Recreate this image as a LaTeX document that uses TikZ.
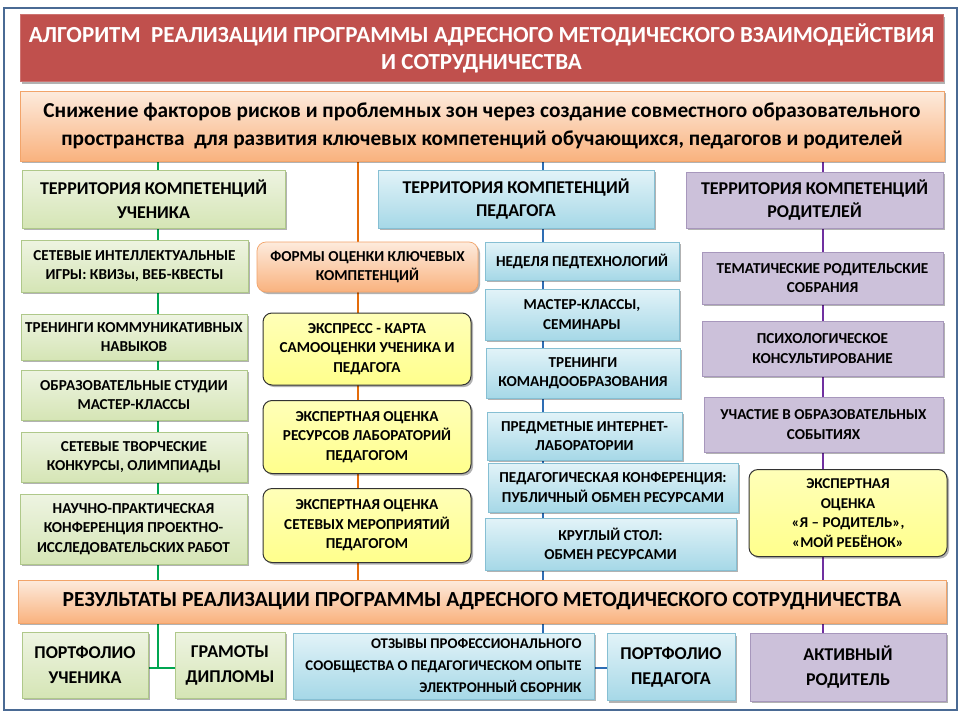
\documentclass[tikz,border=0pt]{standalone}
\usepackage{fontspec}
\setmainfont{Carlito}
\usetikzlibrary{shadows}
\definecolor{framec}{HTML}{4A6A94}
\definecolor{redt}{HTML}{C0504D}
\definecolor{otop}{HTML}{FDEBDD}
\definecolor{obot}{HTML}{F9B27E}
\definecolor{oborder}{HTML}{F2A46A}
\definecolor{gtop}{HTML}{EEF4E2}
\definecolor{gbot}{HTML}{D5E5B5}
\definecolor{gborder}{HTML}{AFC88A}
\definecolor{btop}{HTML}{E2F3F8}
\definecolor{bbot}{HTML}{A6D8E7}
\definecolor{bborder}{HTML}{86BFD3}
\definecolor{pfill}{HTML}{CCC1DA}
\definecolor{pborder}{HTML}{A797BC}
\definecolor{ytop}{HTML}{FFFFB8}
\definecolor{ybot}{HTML}{FFFF8C}
\definecolor{lgreen}{HTML}{00A651}
\definecolor{lorange}{HTML}{E46C0A}
\definecolor{lblue}{HTML}{2E6DB4}
\definecolor{lpurple}{HTML}{7030A0}
\pgfdeclarelayer{back}
\pgfdeclarelayer{lines}
\pgfsetlayers{back,lines,main}
\tikzset{
  shad/.style={drop shadow={shadow xshift=2pt, shadow yshift=-2pt, opacity=0.3, fill=black}},
  base/.style={shad, align=center, inner sep=2pt, text=black, line width=0.7pt},
  fbig/.style={font=\fontsize{21.5}{28}\selectfont\bfseries},
  fhead/.style={font=\fontsize{18}{23.5}\selectfont\bfseries},
  fsmall/.style={font=\fontsize{15.2}{19.5}\selectfont\bfseries},
  fbottom/.style={font=\fontsize{18}{25}\selectfont\bfseries},
  gbox/.style={base, draw=gborder, top color=gtop, bottom color=gbot},
  bbox/.style={base, draw=bborder, top color=btop, bottom color=bbot},
  pbox/.style={base, draw=pborder, fill=pfill},
  obox/.style={base, draw=oborder, top color=otop, bottom color=obot},
  ybox/.style={base, draw=black!80, top color=ytop, bottom color=ybot, rounded corners=9pt, line width=1pt},
  conn/.style={line width=2.5pt},
}
\begin{document}
\begin{tikzpicture}[x=1pt,y=-1pt]
\begin{pgfonlayer}{back}
\fill[white] (0,0) rectangle (960,720);
\draw[framec, line width=2pt] (4,8) rectangle (957,710);
\end{pgfonlayer}
\useasboundingbox (0,0) rectangle (960,720);

% title
\node[shad, fill=redt, draw=redt!80!white, text=white, align=center, minimum width=923pt, minimum height=67pt,
  font=\fontsize{23}{27}\selectfont\bfseries] (title) at (481.5,48)
  {АЛГОРИТМ\ \ РЕАЛИЗАЦИИ ПРОГРАММЫ АДРЕСНОГО МЕТОДИЧЕСКОГО ВЗАИМОДЕЙСТВИЯ\\И СОТРУДНИЧЕСТВА};
\node[obox, font=\fontsize{21.3}{28}\selectfont\bfseries, minimum width=924pt, minimum height=70pt] (top) at (482,126)
  {Снижение факторов рисков и проблемных зон через создание совместного образовательного\\пространства\ \ для развития ключевых компетенций обучающихся, педагогов и родителей};

% green column
\node[gbox, fhead, minimum width=263pt, minimum height=58pt] (g0) at (153.5,199) {ТЕРРИТОРИЯ КОМПЕТЕНЦИЙ\\УЧЕНИКА};
\node[gbox, fsmall, minimum width=227pt, minimum height=52pt] (g1) at (134.5,266) {СЕТЕВЫЕ ИНТЕЛЛЕКТУАЛЬНЫЕ\\ИГРЫ: КВИЗы, ВЕБ-КВЕСТЫ};
\node[gbox, fsmall, minimum width=226pt, minimum height=46pt] (g2) at (134,337) {ТРЕНИНГИ КОММУНИКАТИВНЫХ\\НАВЫКОВ};
\node[gbox, fsmall, minimum width=226pt, minimum height=50pt] (g3) at (134,395) {ОБРАЗОВАТЕЛЬНЫЕ СТУДИИ\\МАСТЕР-КЛАССЫ};
\node[gbox, fsmall, minimum width=226pt, minimum height=50pt] (g4) at (134,457) {СЕТЕВЫЕ ТВОРЧЕСКИЕ\\КОНКУРСЫ, ОЛИМПИАДЫ};
\node[gbox, fsmall, minimum width=227pt, minimum height=70pt] (g5) at (133.5,529) {НАУЧНО-ПРАКТИЧЕСКАЯ\\КОНФЕРЕНЦИЯ ПРОЕКТНО-\\ИССЛЕДОВАТЕЛЬСКИХ РАБОТ};

% orange / yellow column
\node[obox, fsmall, rounded corners=9pt, minimum width=221pt, minimum height=50pt] (o0) at (367.5,267) {ФОРМЫ ОЦЕНКИ КЛЮЧЕВЫХ\\КОМПЕТЕНЦИЙ};
\node[ybox, fsmall, minimum width=208pt, minimum height=72pt] (y1) at (367,349) {ЭКСПРЕСС - КАРТА\\САМООЦЕНКИ УЧЕНИКА И\\ПЕДАГОГА};
\node[ybox, fsmall, minimum width=208pt, minimum height=73pt] (y2) at (367,437) {ЭКСПЕРТНАЯ ОЦЕНКА\\РЕСУРСОВ ЛАБОРАТОРИЙ\\ПЕДАГОГОМ};
\node[ybox, fsmall, minimum width=208pt, minimum height=74pt] (y3) at (367,525.5) {ЭКСПЕРТНАЯ ОЦЕНКА\\СЕТЕВЫХ МЕРОПРИЯТИЙ\\ПЕДАГОГОМ};

% blue column
\node[bbox, fhead, minimum width=276pt, minimum height=58pt] (b0) at (516,199) {ТЕРРИТОРИЯ КОМПЕТЕНЦИЙ\\ПЕДАГОГА};
\node[bbox, fsmall, minimum width=194pt, minimum height=38pt] (b1) at (582,261) {НЕДЕЛЯ ПЕДТЕХНОЛОГИЙ};
\node[bbox, fsmall, minimum width=194pt, minimum height=51pt] (b2) at (582,314.5) {МАСТЕР-КЛАССЫ,\\СЕМИНАРЫ};
\node[bbox, fsmall, minimum width=194pt, minimum height=50pt] (b3) at (583,373) {ТРЕНИНГИ\\КОМАНДООБРАЗОВАНИЯ};
\node[bbox, fsmall, minimum width=195pt, minimum height=48pt] (b4) at (584.5,436) {ПРЕДМЕТНЫЕ ИНТЕРНЕТ-\\ЛАБОРАТОРИИ};
\node[bbox, fsmall, minimum width=250pt, minimum height=49pt] (b5) at (613,487.5) {ПЕДАГОГИЧЕСКАЯ КОНФЕРЕНЦИЯ:\\ПУБЛИЧНЫЙ ОБМЕН РЕСУРСАМИ};
\node[bbox, fsmall, minimum width=251pt, minimum height=52pt] (b6) at (610.5,544) {КРУГЛЫЙ СТОЛ:\\ОБМЕН РЕСУРСАМИ};

% purple column
\node[pbox, fhead, minimum width=257pt, minimum height=56pt] (p0) at (814.5,200) {ТЕРРИТОРИЯ КОМПЕТЕНЦИЙ\\РОДИТЕЛЕЙ};
\node[pbox, fsmall, minimum width=241pt, minimum height=52pt] (p1) at (822.5,278) {ТЕМАТИЧЕСКИЕ РОДИТЕЛЬСКИЕ\\СОБРАНИЯ};
\node[pbox, fsmall, minimum width=241pt, minimum height=55pt] (p2) at (822.5,348.5) {ПСИХОЛОГИЧЕСКОЕ\\КОНСУЛЬТИРОВАНИЕ};
\node[pbox, fsmall, minimum width=239pt, minimum height=55pt] (p3) at (823.5,424.5) {УЧАСТИЕ В ОБРАЗОВАТЕЛЬНЫХ\\СОБЫТИЯХ};
\node[ybox, font=\fontsize{15}{19.7}\selectfont\bfseries, minimum width=198pt, minimum height=87pt] (p4) at (848,513) {ЭКСПЕРТНАЯ\\ОЦЕНКА\\«Я – РОДИТЕЛЬ»,\\«МОЙ РЕБЁНОК»};

% results
\node[obox, fbig, minimum width=928pt, minimum height=43pt] (res) at (482,601.5) {РЕЗУЛЬТАТЫ РЕАЛИЗАЦИИ ПРОГРАММЫ АДРЕСНОГО МЕТОДИЧЕСКОГО СОТРУДНИЧЕСТВА};

% bottom row
\node[gbox, fbottom, minimum width=126pt, minimum height=66pt] (r1) at (85,665) {ПОРТФОЛИО\\УЧЕНИКА};
\node[gbox, fbottom, minimum width=110pt, minimum height=66pt] (r2) at (230,665) {ГРАМОТЫ\\ДИПЛОМЫ};
\node[bbox, align=right, font=\fontsize{14.8}{22}\selectfont\bfseries, minimum width=301pt, minimum height=66pt] (r3) at (443.5,666) {ОТЗЫВЫ ПРОФЕССИОНАЛЬНОГО\\СООБЩЕСТВА О ПЕДАГОГИЧЕСКОМ ОПЫТЕ\\ЭЛЕКТРОННЫЙ СБОРНИК};
\node[bbox, fbottom, minimum width=128pt, minimum height=67pt] (r4) at (671,667) {ПОРТФОЛИО\\ПЕДАГОГА};
\node[pbox, fbottom, minimum width=196pt, minimum height=68pt] (r5) at (848,667) {АКТИВНЫЙ\\РОДИТЕЛЬ};

% connector coordinates
\coordinate (gx) at (158,0);
\coordinate (ox) at (358,0);
\coordinate (bx) at (543,0);
\coordinate (px) at (823,0);
\coordinate (gj) at (158,668);
\coordinate (bj) at (600,668);

\begin{pgfonlayer}{lines}
\draw[conn, lgreen] (top.south -| gx) -- (res.north -| gx);
\draw[conn, lgreen] (res.south -| gx) -- (gj);
\draw[conn, lgreen] (r1.east |- gj) -- (r2.west |- gj);
\draw[conn, lorange] (top.south -| ox) -- (res.north -| ox);
\draw[conn, lblue] (top.south -| bx) -- (res.north -| bx);
\draw[conn, lblue] (res.south -| bx) -- (r3.north -| bx);
\draw[conn, lblue] (r3.east |- bj) -- (r4.west |- bj);
\draw[conn, lpurple] (top.south -| px) -- (res.north -| px);
\draw[conn, lpurple] (res.south -| px) -- (r5.north -| px);
\end{pgfonlayer}
\end{tikzpicture}
\end{document}
